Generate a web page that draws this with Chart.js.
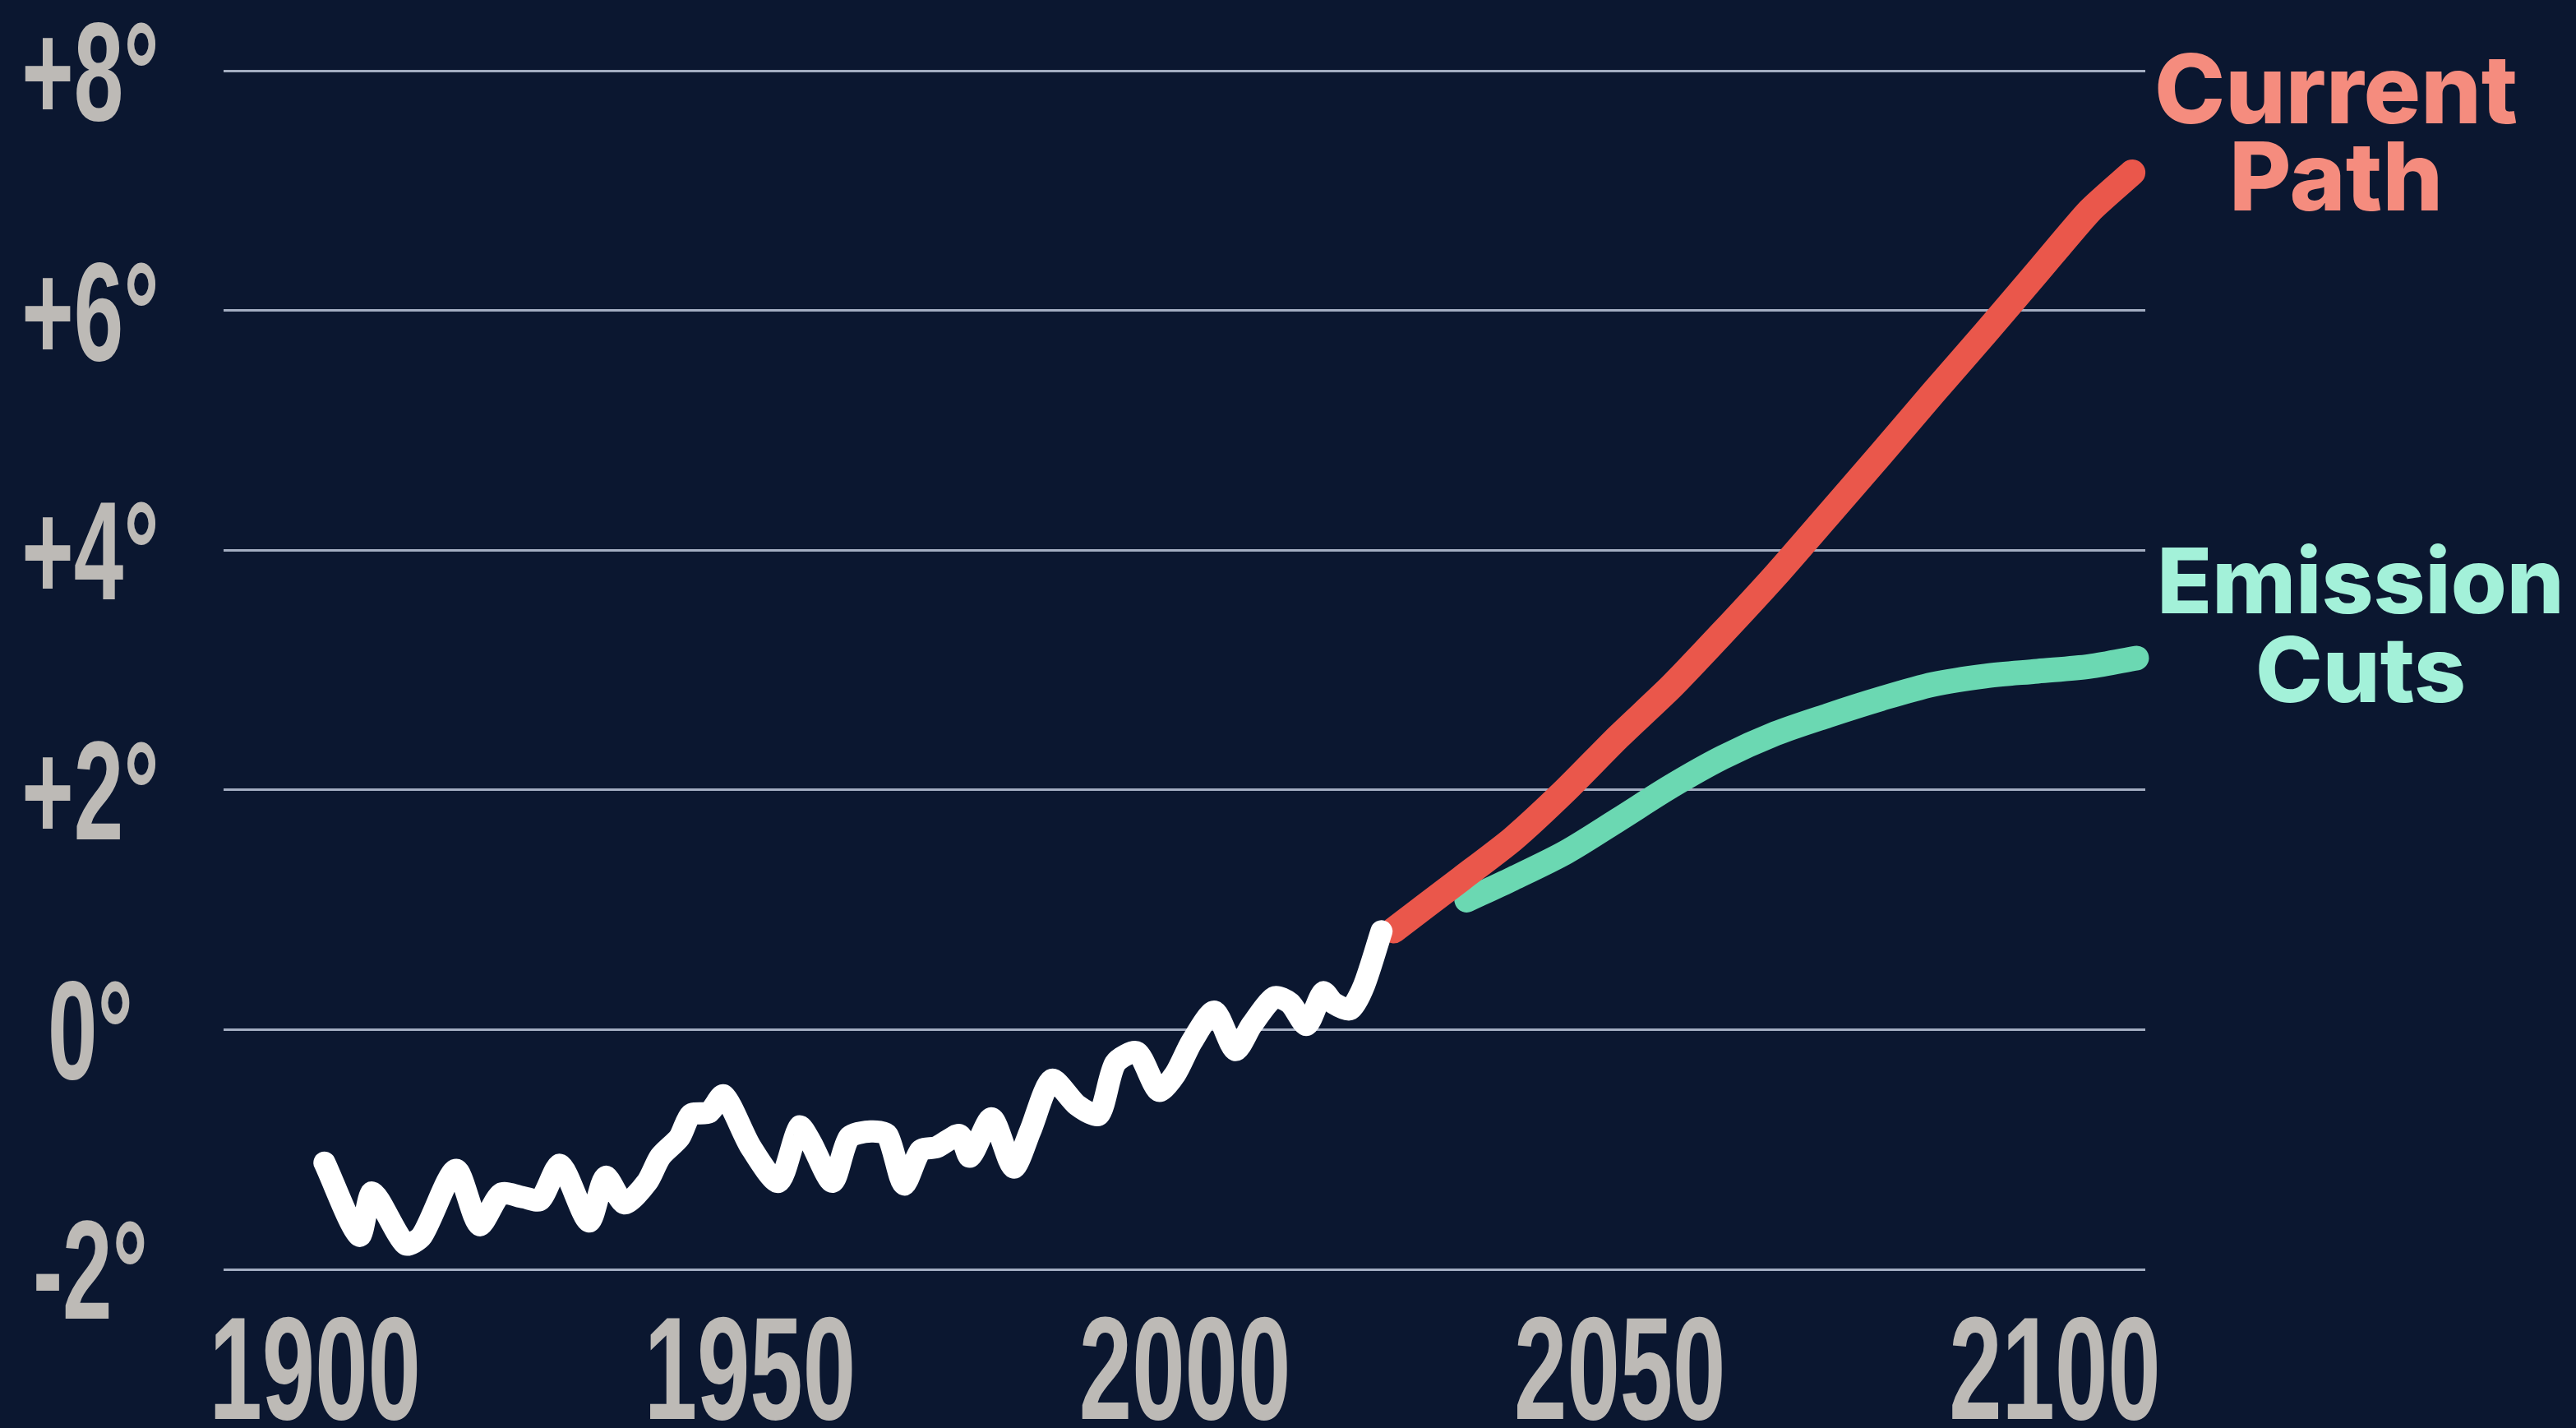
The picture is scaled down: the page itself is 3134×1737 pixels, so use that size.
<!DOCTYPE html>
<html><head><meta charset="utf-8">
<script src="https://cdn.jsdelivr.net/npm/chart.js@4.4.1/dist/chart.umd.min.js"></script>
<style>html,body{margin:0;padding:0;background:#0b1730;overflow:hidden}</style>
</head><body>
<canvas id="c" width="3134" height="1737" style="display:block;width:3134px;height:1737px"></canvas>
<script>
// Observed temperature anomaly (°)
const histYears = [1901.1,1905.1,1906.6,1910.4,1912.3,1916.2,1918.9,1921.4,1924.0,1925.9,1928.2,1931.5,1933.4,1935.6,1938.2,1939.7,1941.9,1943.2,1945.3,1947.0,1950.1,1953.3,1955.7,1957.0,1959.5,1961.4,1963.9,1965.8,1967.7,1969.6,1971.5,1974.1,1975.3,1977.8,1980.3,1982.2,1984.7,1987.6,1990.1,1992.0,1994.5,1997.0,1998.9,2000.8,2003.4,2005.8,2007.7,2010.3,2012.1,2014.0,2015.9,2017.1,2019.0,2020.6,2022.6];
const histTemps = [-1.11,-1.72,-1.36,-1.79,-1.72,-1.17,-1.63,-1.37,-1.40,-1.42,-1.13,-1.60,-1.23,-1.45,-1.27,-1.06,-0.90,-0.71,-0.69,-0.55,-0.98,-1.27,-0.81,-0.94,-1.27,-0.90,-0.85,-0.88,-1.29,-1.01,-0.98,-0.88,-1.06,-0.74,-1.15,-0.85,-0.42,-0.63,-0.71,-0.28,-0.19,-0.51,-0.37,-0.10,0.15,-0.17,0.04,0.27,0.22,0.04,0.31,0.22,0.17,0.37,0.82];
// Projection: current path
const currentYears = [2024.0,2031.8,2037.7,2043.8,2049.8,2055.9,2061.8,2067.9,2073.9,2080.0,2086.0,2092.0,2098.0,2104.0,2108.9];
const currentTemps = [0.83,1.26,1.59,2.00,2.44,2.86,3.31,3.79,4.29,4.80,5.31,5.81,6.32,6.83,7.15];
// Projection: emission cuts
const cutsYears = [2032.4,2037.7,2043.8,2049.8,2055.9,2061.8,2067.9,2073.9,2080.0,2086.0,2092.0,2098.0,2104.0,2109.4];
const cutsTemps = [1.08,1.26,1.48,1.75,2.03,2.27,2.47,2.62,2.76,2.88,2.95,2.99,3.03,3.10];
// Axes
const yearTicks = [1900,1950,2000,2050,2100];
const tempTicks = [-2,0,2,4,6,8];
const currentLabel = ['Current','Path'];
const cutsLabel = ['Emission','Cuts'];

const pts = (xs, ys) => xs.map((x, i) => ({x: x, y: ys[i]}));
const fmtTemp = v => (v > 0 ? '+' : '') + v + '°';

const bgPlugin = {
  id: 'bg',
  beforeDraw(chart) {
    const ctx = chart.ctx;
    ctx.save();
    ctx.fillStyle = '#0b1730';
    ctx.fillRect(0, 0, chart.width, chart.height);
    ctx.restore();
  }
};

function squished(ctx, text, x, y, sx) {
  ctx.save();
  ctx.translate(x, y);
  ctx.scale(sx, 1);
  ctx.fillText(text, 0, 0);
  ctx.restore();
}

const tickPlugin = {
  id: 'condensedTicks',
  afterDraw(chart) {
    const ctx = chart.ctx, xs = chart.scales.x, ys = chart.scales.y, a = chart.chartArea;
    ctx.save();
    ctx.fillStyle = '#bdbab6';
    ctx.textAlign = 'center';
    ctx.textBaseline = 'alphabetic';
    ctx.font = 'bold 170px "Liberation Sans", Arial, sans-serif';
    ys.ticks.forEach(t => {
      const y = ys.getPixelForValue(t.value);
      squished(ctx, t.label || fmtTemp(t.value), a.left - 162, y + 60, 0.64);
    });
    ctx.font = 'bold 178px "Liberation Sans", Arial, sans-serif';
    xs.ticks.forEach(t => {
      const x = xs.getPixelForValue(t.value);
      squished(ctx, t.label || String(t.value), x, a.bottom + 182, 0.65);
    });
    // series labels
    ctx.fillStyle = '#f58c7e';
    ctx.font = '800 116px Inter, "Open Sans", sans-serif';
    ctx.fillText(currentLabel[0], a.right + 232, a.top + 64);
    ctx.fillText(currentLabel[1], a.right + 232, a.top + 170);
    ctx.fillStyle = '#a3f1d9';
    ctx.font = '800 110px Inter, "Open Sans", sans-serif';
    ctx.fillText(cutsLabel[0], a.right + 262, a.top + 660);
    ctx.fillText(cutsLabel[1], a.right + 262, a.top + 768);
    ctx.restore();
  }
};

new Chart(document.getElementById('c'), {
  type: 'line',
  data: {
    datasets: [
      {label: 'Observed', data: pts(histYears, histTemps), borderColor: '#ffffff', borderWidth: 27,
       pointRadius: 0, tension: 0.25, borderCapStyle: 'round', borderJoinStyle: 'round', clip: false},
      {label: 'Current Path', data: pts(currentYears, currentTemps), borderColor: '#ea574b', borderWidth: 32,
       pointRadius: 0, tension: 0.2, borderCapStyle: 'round', borderJoinStyle: 'round', clip: false},
      {label: 'Emission Cuts', data: pts(cutsYears, cutsTemps), borderColor: '#6bd8b2', borderWidth: 30,
       pointRadius: 0, tension: 0.3, borderCapStyle: 'round', borderJoinStyle: 'round', clip: false}
    ]
  },
  options: {
    responsive: false,
    devicePixelRatio: 1,
    animation: false,
    events: [],
    layout: {padding: {left: 272, right: 524, top: 86, bottom: 193}},
    plugins: {legend: {display: false}, tooltip: {enabled: false}},
    scales: {
      x: {
        type: 'linear', min: 1889.5, max: 2110.4,
        afterBuildTicks: s => { s.ticks = yearTicks.map(v => ({value: v})); },
        ticks: {display: false, callback: v => String(v)},
        grid: {display: false, drawTicks: false},
        border: {display: false}
      },
      y: {
        type: 'linear', min: -2, max: 8,
        afterBuildTicks: s => { s.ticks = tempTicks.map(v => ({value: v})); },
        ticks: {display: false, callback: fmtTemp},
        grid: {color: 'rgba(190,200,218,0.85)', lineWidth: 3, drawTicks: false},
        border: {display: false}
      }
    }
  },
  plugins: [bgPlugin, tickPlugin]
});
</script>
</body></html>
